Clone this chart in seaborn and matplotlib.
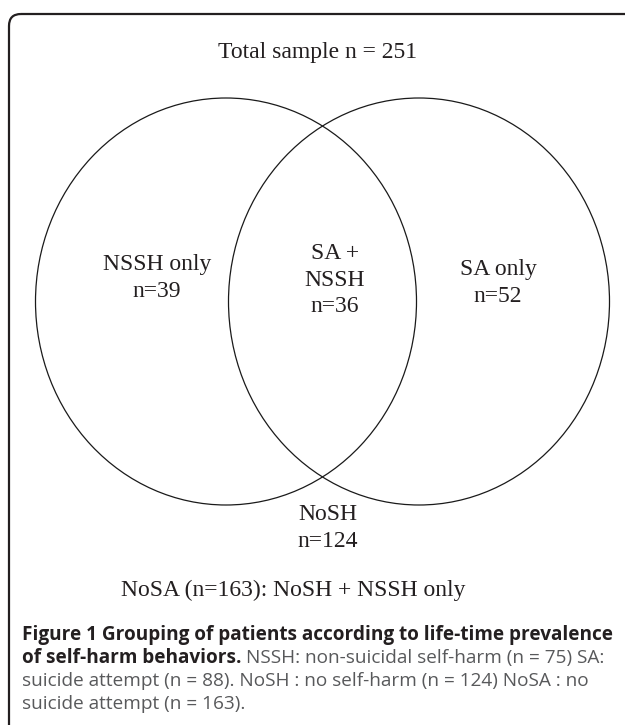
import matplotlib.pyplot as plt
import seaborn as sns
from matplotlib.patches import Ellipse, FancyBboxPatch

# Region labels and counts
regions = ['NSSH only', 'SA +\nNSSH', 'SA only', 'NoSH']
counts = [39, 36, 52, 124]

n_total = sum(counts)              # 251
n_nssh = counts[0] + counts[1]     # 75
n_sa = counts[1] + counts[2]       # 88
n_nosh = counts[3]                 # 124
n_nosa = counts[3] + counts[0]     # 163

sns.set_theme(style='white')
plt.rcParams['font.family'] = ['Liberation Serif', 'DejaVu Serif']

fig = plt.figure(figsize=(6.25, 7.25), dpi=100)
ax = fig.add_axes([0, 0, 1, 1])
ax.set_xlim(0, 625)
ax.set_ylim(725, 0)
ax.axis('off')

# panel frame, it runs past the right and bottom edges of the picture
frame = FancyBboxPatch((9, 14), 640, 740, boxstyle='round,pad=0,rounding_size=12',
                       fill=False, ec='#231f20', lw=1.6)
ax.add_patch(frame)

# the two sets (slightly squeezed horizontally like the original)
for cx in (226, 419):
    ax.add_patch(Ellipse((cx, 301.5), 381, 407, fill=False, ec='#1a1a1a', lw=0.9))

ax.text(318, 52, f'Total sample n = {n_total}', ha='center', va='center', fontsize=17, color='#231f20')

label_pos = [(157, 278), (335, 280), (498, 283), (328, 528)]
for (x, y), name, n in zip(label_pos, regions, counts):
    ax.text(x, y, f'{name}\nn={n}', ha='center', va='center', fontsize=17,
            linespacing=1.32, color='#231f20')

ax.text(293, 590, f'NoSA (n={n_nosa}): NoSH + NSSH only', ha='center', va='center',
        fontsize=17, color='#231f20')

# caption
cap_font = ['Open Sans', 'DejaVu Sans']
cap_size = 13.7
bold_kw = dict(fontsize=cap_size, fontweight='bold', family=cap_font, color='#231f20', va='baseline')
reg_kw = dict(fontsize=cap_size, family=cap_font, color='#58595b', va='baseline')

ax.text(22, 640, 'Figure 1 Grouping of patients according to life-time prevalence', **bold_kw)
b2 = ax.text(22, 663, 'of self-harm behaviors.', **bold_kw)
ax.text(22, 686, f'suicide attempt (n = {n_sa}). NoSH : no self-harm (n = {n_nosh}) NoSA : no', **reg_kw)
ax.text(22, 709, f'suicide attempt (n = {n_nosa}).', **reg_kw)

fig.canvas.draw()
bb = b2.get_window_extent()
x_end = ax.transData.inverted().transform((bb.x1, bb.y0))[0]
ax.text(x_end + 4, 663, f'NSSH: non-suicidal self-harm (n = {n_nssh}) SA:', **reg_kw)

fig.savefig('out.png', dpi=100)
